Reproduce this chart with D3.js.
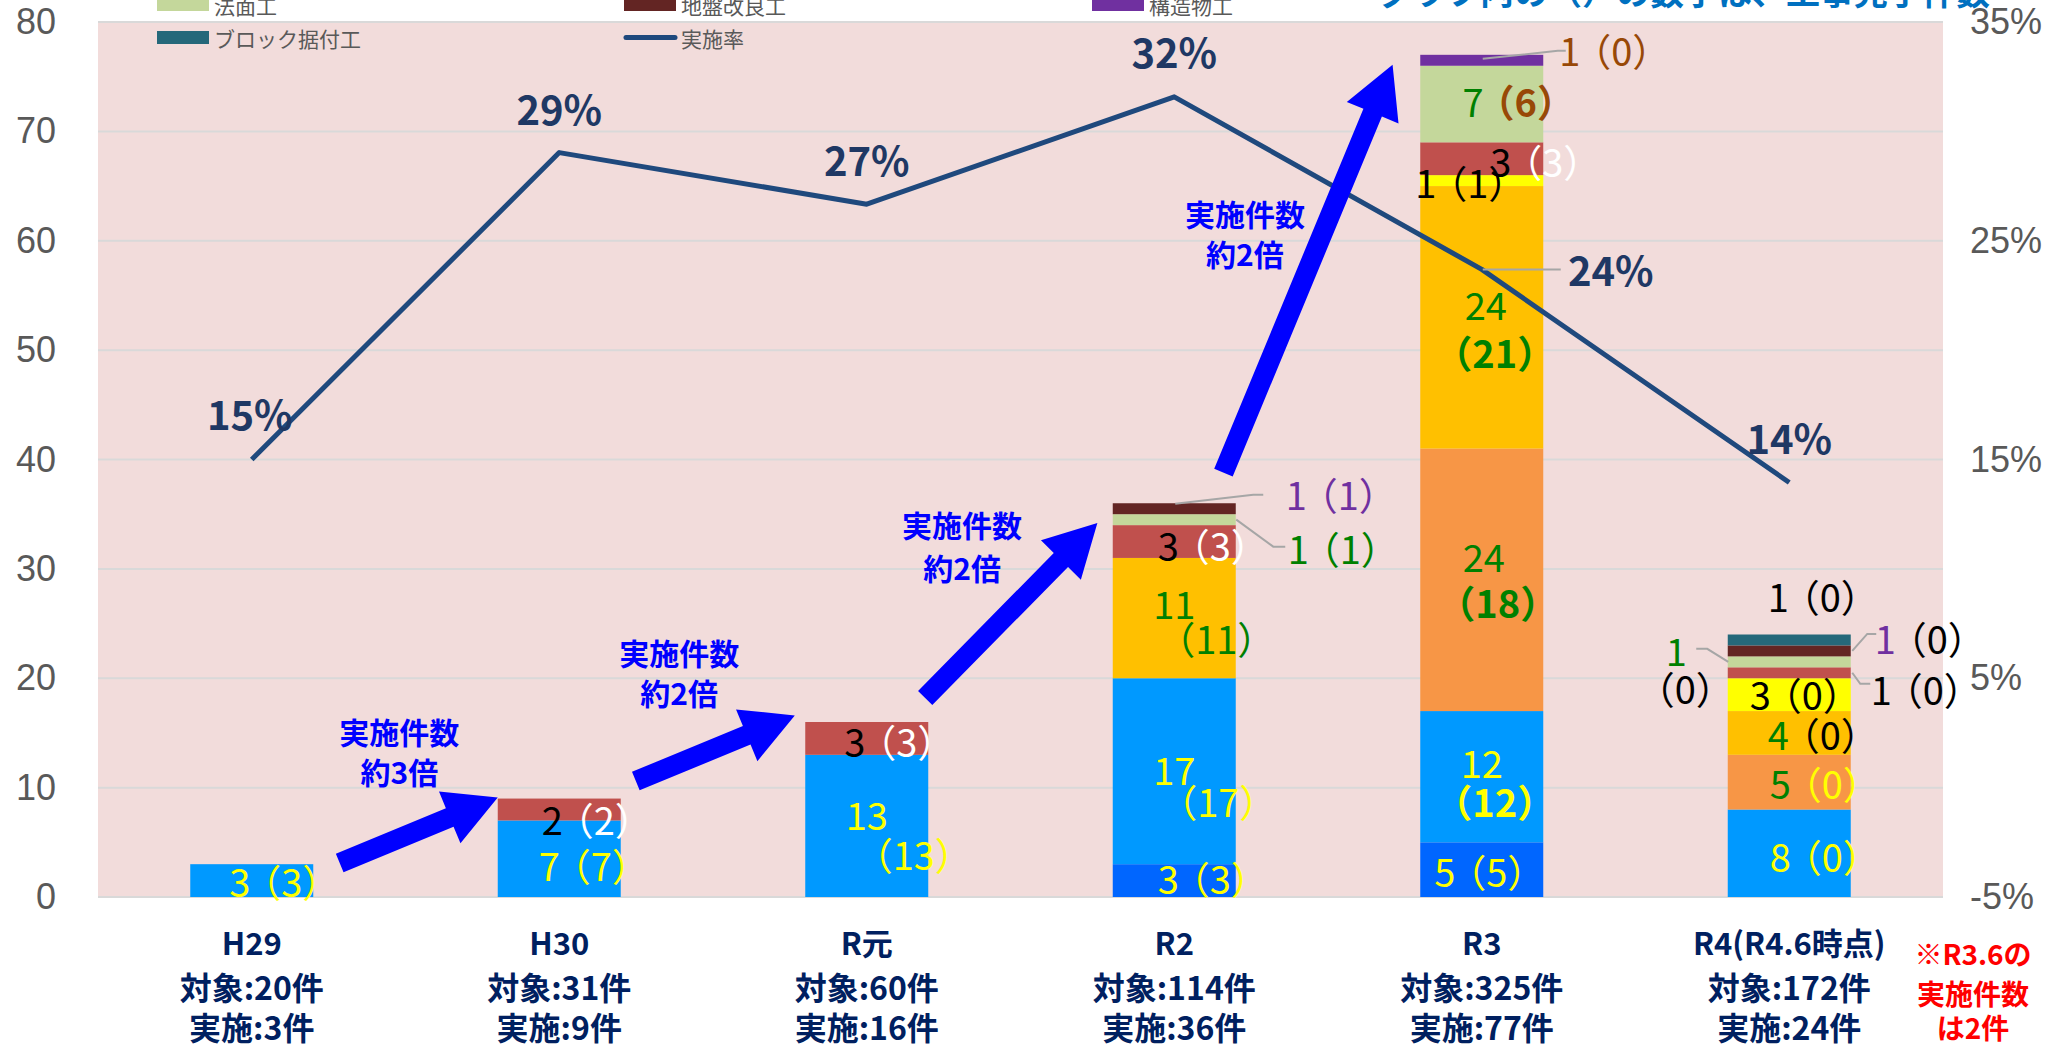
<!DOCTYPE html>
<html>
<head>
<meta charset="utf-8">
<script src="https://cdn.jsdelivr.net/npm/d3@7"></script>
<style>
  body { margin: 0; background: #fff; }
  svg { display: block; }
</style>
</head>
<body>
<svg id="chart" width="2066" height="1046"></svg>
<script>
// ---- data ----
const categories = ["H29", "H30", "R元", "R2", "R3", "R4(R4.6時点)"];
const targetCounts = [20, 31, 60, 114, 325, 172];
const doneTotals = [3, 9, 16, 36, 77, 24];
const rates = [0.15, 0.2903, 0.2667, 0.3158, 0.2369, 0.1395];

// stacked series, bottom to top (number of works / finished works in brackets)
const s1 = [0, 0, 0, 3, 5, 0],     s1Done = [0, 0, 0, 3, 5, 0];
const s2 = [3, 7, 13, 17, 12, 8],  s2Done = [3, 7, 13, 17, 12, 0];
const s3 = [0, 0, 0, 0, 24, 5],    s3Done = [0, 0, 0, 0, 18, 0];
const s4 = [0, 0, 0, 11, 24, 4],   s4Done = [0, 0, 0, 11, 21, 0];
const s5 = [0, 0, 0, 0, 1, 3],     s5Done = [0, 0, 0, 0, 1, 0];
const s6 = [0, 2, 3, 3, 3, 1],     s6Done = [0, 2, 3, 3, 3, 0];
const s7 = [0, 0, 0, 1, 7, 1],     s7Done = [0, 0, 0, 1, 6, 0];  // 法面工
const s8 = [0, 0, 0, 1, 0, 1],     s8Done = [0, 0, 0, 1, 0, 0];  // 地盤改良工
const s9 = [0, 0, 0, 0, 1, 0],     s9Done = [0, 0, 0, 0, 0, 0];  // 構造物工
const s10 = [0, 0, 0, 0, 0, 1],    s10Done = [0, 0, 0, 0, 0, 0]; // ブロック据付工

const leftTicks = [0, 10, 20, 30, 40, 50, 60, 70, 80];
const rightTicks = [-0.05, 0.05, 0.15, 0.25, 0.35];

// ---- series setup ----
const series = [
  { key: "s1", vals: s1, done: s1Done, color: "#0066FF" },
  { key: "s2", vals: s2, done: s2Done, color: "#0099FF" },
  { key: "s3", vals: s3, done: s3Done, color: "#F79646" },
  { key: "s4", vals: s4, done: s4Done, color: "#FFC000" },
  { key: "s5", vals: s5, done: s5Done, color: "#FFFF00" },
  { key: "s6", vals: s6, done: s6Done, color: "#C0504D" },
  { key: "法面工", vals: s7, done: s7Done, color: "#C4D79B" },
  { key: "地盤改良工", vals: s8, done: s8Done, color: "#632523" },
  { key: "構造物工", vals: s9, done: s9Done, color: "#7030A0" },
  { key: "ブロック据付工", vals: s10, done: s10Done, color: "#25687A" }
];

const table = categories.map((c, i) => {
  const row = { cat: c };
  series.forEach(s => row[s.key] = s.vals[i]);
  return row;
});

const stacked = d3.stack().keys(series.map(s => s.key))(table);

const svg = d3.select("#chart");
const plot = { left: 98, right: 1943, top: 22, bottom: 897 };
const FONT = "'Noto Sans CJK JP', 'Noto Sans', sans-serif";

const x = d3.scaleBand().domain(categories).range([plot.left, plot.right]).padding(0);
const barW = x.bandwidth() * 0.4;
const cx = i => x(categories[i]) + x.bandwidth() / 2;
const y = d3.scaleLinear().domain([0, 80]).range([plot.bottom, plot.top]);
const yR = d3.scaleLinear().domain([-0.05, 0.35]).range([plot.bottom, plot.top]);
// category index -> x (used for annotations between bars)
const xi = d3.scaleLinear().domain([0, 5]).range([cx(0), cx(5)]);

// plot background
svg.append("rect")
  .attr("x", plot.left).attr("y", plot.top)
  .attr("width", plot.right - plot.left).attr("height", plot.bottom - plot.top)
  .attr("fill", "#F2DCDB");

// gridlines
svg.append("g").selectAll("line")
  .data(leftTicks)
  .enter().append("line")
  .attr("x1", plot.left).attr("x2", plot.right)
  .attr("y1", d => y(d)).attr("y2", d => y(d))
  .attr("stroke", "#D9D9D9").attr("stroke-width", 2);

// axes
const axL = svg.append("g")
  .attr("transform", `translate(${plot.left},0)`)
  .call(d3.axisLeft(y).tickValues(leftTicks).tickSize(0).tickPadding(42));
const axR = svg.append("g")
  .attr("transform", `translate(${plot.right},0)`)
  .call(d3.axisRight(yR).tickValues(rightTicks).tickSize(0).tickPadding(27)
    .tickFormat(d => Math.round(d * 100) + "%"));
[axL, axR].forEach(a => {
  a.select(".domain").remove();
  a.selectAll("text")
    .style("font-family", "'Liberation Sans', Arial, sans-serif")
    .style("font-size", "36px")
    .attr("fill", "#595959");
});

// bars
svg.append("g").selectAll("g")
  .data(stacked)
  .enter().append("g")
  .attr("fill", (d, i) => series[i].color)
  .selectAll("rect")
  .data(d => d)
  .enter().append("rect")
  .attr("x", d => x(d.data.cat) + (x.bandwidth() - barW) / 2)
  .attr("y", d => y(d[1]))
  .attr("width", barW)
  .attr("height", d => y(d[0]) - y(d[1]));

// rate line
const line = d3.line().x((d, i) => cx(i)).y(d => yR(d));
svg.append("path")
  .datum(rates)
  .attr("d", line)
  .attr("fill", "none")
  .attr("stroke", "#1F497D")
  .attr("stroke-width", 5)
  .attr("stroke-linejoin", "round");

// rate labels
const rateOffsets = [[-2, -47], [0, -45], [0, -45], [0, -46], [129, 0], [0, -45]];
rates.forEach((r, i) => {
  svg.append("text")
    .attr("x", cx(i) + rateOffsets[i][0])
    .attr("y", yR(r) + rateOffsets[i][1])
    .attr("text-anchor", "middle")
    .attr("dominant-baseline", "central")
    .style("font-family", FONT)
    .style("font-size", "40px")
    .style("font-weight", "bold")
    .attr("fill", "#1F3864")
    .text(Math.round(r * 100) + "%");
});
// leader for 24%
svg.append("line")
  .attr("x1", cx(4) + 1).attr("x2", cx(4) + 79)
  .attr("y1", yR(rates[4])).attr("y2", yR(rates[4]))
  .attr("stroke", "#A6A6A6").attr("stroke-width", 2);

// ---- segment labels ----
const Y = "#FFFF00", W = "#FFFFFF", K = "#000000", G = "#008000", P = "#7030A0", BR = "#984807";
const segLabels = [
  { s: 1, c: 0, num: Y, par: Y, dx: 25, dy: -1 },
  { s: 1, c: 1, num: Y, par: Y, dx: 27, dy: 5 },
  { s: 5, c: 1, num: K, par: W, dx: 30, dy: 8 },
  { s: 1, c: 2, num: Y, par: Y, two: [0, -12, 39, 28] },
  { s: 5, c: 2, num: K, par: W, dx: 25, dy: 2 },
  { s: 0, c: 3, num: Y, par: Y, dx: 31, dy: -4 },
  { s: 1, c: 3, num: Y, par: Y, two: [0, -3, 36, 29] },
  { s: 3, c: 3, num: G, par: G, two: [0, -16, 34, 19] },
  { s: 5, c: 3, num: K, par: W, dx: 31, dy: 2 },
  { s: 6, c: 3, num: G, par: G, dx: 161, dy: 27, leader: [[62, 0], [99, 27], [111, 27]] },
  { s: 7, c: 3, num: P, par: P, dx: 159, dy: -16, leader: [[1, -5], [79, -14], [89, -14]] },
  { s: 0, c: 4, num: Y, par: Y, dx: 0, dy: 0 },
  { s: 1, c: 4, num: Y, par: Y, two: [0, -15, 5, 24], bold2: true },
  { s: 2, c: 4, num: G, par: G, two: [2, -24, 8, 22], bold2: true },
  { s: 3, c: 4, num: G, par: G, two: [4, -14, 5, 34], bold2: true },
  { s: 4, c: 4, num: K, par: K, dx: -19, dy: 0 },
  { s: 5, c: 4, num: K, par: W, dx: 56, dy: 1 },
  { s: 6, c: 4, num: G, par: BR, dx: 29, dy: -4, boldPar: true },
  { s: 8, c: 4, num: BR, par: BR, dx: 125, dy: -11, leader: [[1, -1.5], [76, -9.5], [84, -9.5]] },
  { s: 1, c: 5, num: Y, par: Y, dx: 28, dy: 2 },
  { s: 2, c: 5, num: G, par: Y, dx: 28, dy: 0 },
  { s: 3, c: 5, num: G, par: K, dx: 26, dy: 0 },
  { s: 4, c: 5, num: K, par: K, dx: 8, dy: -2 },
  { s: 5, c: 5, num: K, par: K, dx: 129, dy: 15, leader: [[63, 0], [71, 11], [81, 11]] },
  { s: 6, c: 5, num: G, par: K, two: [-113, -12, -112, 26], leader: [[-61, 0], [-82, -13], [-93, -13]] },
  { s: 7, c: 5, num: P, par: K, dx: 133, dy: -14, leader: [[63, 0], [78, -17], [87, -17]] },
  { s: 9, c: 5, num: K, par: K, dx: 26, dy: -45 }
];
const PAR_SHIFT = 8;   // full-width brackets carry side bearing; nudge to centre the ink
const PAR_GAP = -7;    // tighten the gap between number and bracket

const leaderG = svg.append("g");
const labelG = svg.append("g")
  .style("font-family", FONT)
  .style("font-size", "38px");

segLabels.forEach(L => {
  const seg = stacked[L.s][L.c];
  const bx = cx(L.c);
  const by = (y(seg[0]) + y(seg[1])) / 2;
  const v = series[L.s].vals[L.c];
  const d = series[L.s].done[L.c];
  if (L.leader) {
    leaderG.append("polyline")
      .attr("points", L.leader.map(p => [bx + p[0], by + p[1]].join(",")).join(" "))
      .attr("fill", "none").attr("stroke", "#A6A6A6").attr("stroke-width", 2);
  }
  if (L.two) {
    labelG.append("text")
      .attr("x", bx + L.two[0]).attr("y", by + L.two[1])
      .attr("text-anchor", "middle").attr("dominant-baseline", "central")
      .attr("fill", L.num).text(v);
    labelG.append("text")
      .attr("x", bx + L.two[2] + PAR_SHIFT).attr("y", by + L.two[3])
      .attr("text-anchor", "middle").attr("dominant-baseline", "central")
      .style("font-weight", L.bold2 ? "bold" : "normal")
      .attr("fill", L.par).text("（" + d + "）");
  } else {
    const t = labelG.append("text")
      .attr("x", bx + L.dx + PAR_SHIFT).attr("y", by + L.dy)
      .attr("text-anchor", "middle").attr("dominant-baseline", "central");
    t.append("tspan").attr("fill", L.num).text(v);
    t.append("tspan").attr("fill", L.par)
      .attr("dx", PAR_GAP)
      .style("font-weight", L.boldPar ? "bold" : "normal")
      .text("（" + d + "）");
  }
});

// ---- growth arrows ----
const arrows = [
  { tail: [0.286, 3.1], tip: [0.80, 9.1], text: ["実施件数", "約3倍"], t: [0.48, 15.2, 11.5] },
  { tail: [1.249, 10.6], tip: [1.766, 16.6], text: ["実施件数", "約2倍"], t: [1.39, 22.4, 18.7] },
  { tail: [2.19, 18.2], tip: [2.75, 34.2], text: ["実施件数", "約2倍"], t: [2.31, 34.1, 30.2] },
  { tail: [3.16, 38.8], tip: [3.71, 76.1], text: ["実施件数", "約2倍"], t: [3.23, 62.5, 58.9] }
];
const shaft = 10, head = 28, headLen = 52;
arrows.forEach(a => {
  const x0 = xi(a.tail[0]), y0 = y(a.tail[1]);
  const x1 = xi(a.tip[0]), y1 = y(a.tip[1]);
  const len = Math.hypot(x1 - x0, y1 - y0);
  const ux = (x1 - x0) / len, uy = (y1 - y0) / len;
  const nx = -uy, ny = ux;
  const bx = x1 - ux * headLen, by = y1 - uy * headLen;
  const pts = [
    [x0 + nx * shaft, y0 + ny * shaft],
    [bx + nx * shaft, by + ny * shaft],
    [bx + nx * head, by + ny * head],
    [x1, y1],
    [bx - nx * head, by - ny * head],
    [bx - nx * shaft, by - ny * shaft],
    [x0 - nx * shaft, y0 - ny * shaft]
  ];
  svg.append("polygon")
    .attr("points", pts.map(p => p.join(",")).join(" "))
    .attr("fill", "#0000FF");
  a.text.forEach((s, k) => {
    svg.append("text")
      .attr("x", xi(a.t[0])).attr("y", y(a.t[1 + k]))
      .attr("text-anchor", "middle").attr("dominant-baseline", "central")
      .style("font-family", FONT).style("font-size", "30px").style("font-weight", "bold")
      .attr("fill", "#0000FF").text(s);
  });
});

// ---- x axis labels ----
const xl = svg.append("g")
  .style("font-family", FONT)
  .style("font-weight", "bold")
  .attr("fill", "#002060")
  .attr("text-anchor", "middle");
categories.forEach((c, i) => {
  const rows = [c, "対象:" + targetCounts[i] + "件", "実施:" + doneTotals[i] + "件"];
  const ys = [941, 986, 1026];
  rows.forEach((r, k) => {
    xl.append("text")
      .attr("x", cx(i)).attr("y", ys[k])
      .attr("dominant-baseline", "central")
      .style("font-size", k === 0 ? "31px" : "32px")
      .text(r);
  });
});

// red note
["※R3.6の", "実施件数", "は2件"].forEach((s, k) => {
  svg.append("text")
    .attr("x", 1973).attr("y", [953, 993, 1027][k])
    .attr("text-anchor", "middle").attr("dominant-baseline", "central")
    .style("font-family", FONT).style("font-size", "28px").style("font-weight", "bold")
    .attr("fill", "#FF0000").text(s);
});

// title (top cut off in the original)
svg.append("text")
  .attr("x", 1990).attr("y", 5)
  .attr("text-anchor", "end")
  .style("font-family", FONT).style("font-size", "34px").style("font-weight", "bold")
  .attr("fill", "#0070C0")
  .text("グラフ内の（）の数字は、工事完了件数");

// ---- legend (first rows cut off at the top) ----
const legendItems = [
  { name: "法面工", color: series[6].color, x: 157, yc: 4.5 },
  { name: "地盤改良工", color: series[7].color, x: 624, yc: 4.5 },
  { name: "構造物工", color: series[8].color, x: 1092, yc: 4.5 },
  { name: "ブロック据付工", color: series[9].color, x: 157, yc: 37.5 },
  { name: "実施率", color: "#1F497D", x: 624, yc: 37.5, line: true }
];
const lg = svg.append("g").style("font-family", FONT).style("font-size", "21px");
legendItems.forEach(it => {
  if (it.line) {
    lg.append("line")
      .attr("x1", it.x + 2).attr("x2", it.x + 51)
      .attr("y1", it.yc).attr("y2", it.yc)
      .attr("stroke", it.color).attr("stroke-width", 5).attr("stroke-linecap", "round");
  } else {
    lg.append("rect")
      .attr("x", it.x).attr("y", it.yc - 6.5)
      .attr("width", 52).attr("height", 13)
      .attr("fill", it.color);
  }
  lg.append("text")
    .attr("x", it.x + 57).attr("y", it.yc)
    .attr("dominant-baseline", "central")
    .attr("fill", "#595959")
    .text(it.name);
});
</script>
</body>
</html>
